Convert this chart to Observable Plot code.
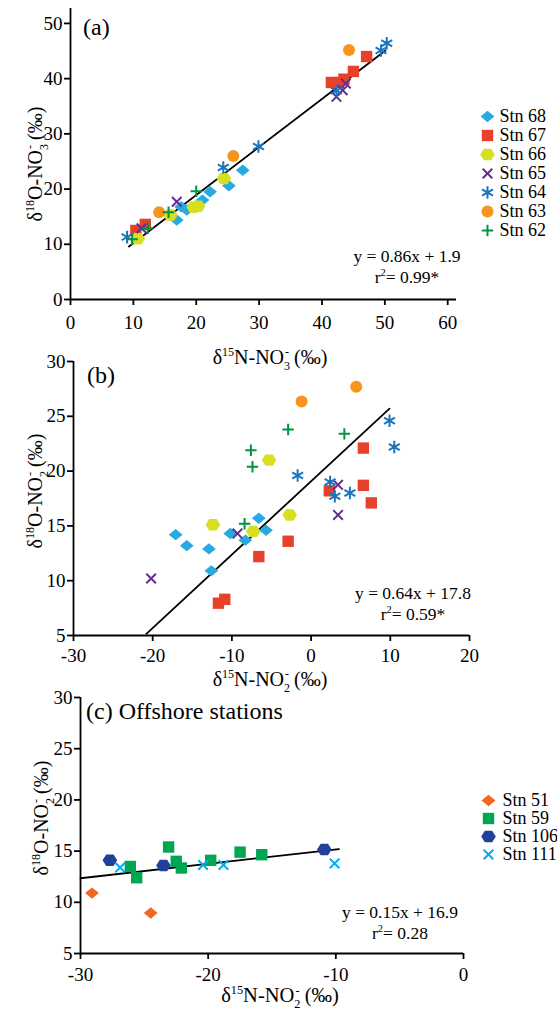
<!DOCTYPE html>
<html><head><meta charset="utf-8">
<script src="https://cdn.jsdelivr.net/npm/d3@7"></script>
<script src="https://cdn.jsdelivr.net/npm/@observablehq/plot@0.6"></script>
<style>
body{margin:0;background:#fff;}
#chart{position:relative;width:557px;height:1012px;overflow:hidden;font-family:"Liberation Serif","Times New Roman",serif;}
#chart svg{position:absolute;overflow:visible;}
</style>
</head><body><div id="chart"></div>
<script>
// ---------- data ----------
const stationsA = ["Stn 68","Stn 67","Stn 66","Stn 65","Stn 64","Stn 63","Stn 62"];
const colorsA   = ["#27aae1","#e8412b","#d7df23","#662d91","#1b75bc","#f7941d","#009444"];
const shapesA   = ["diamond","square","hexagon","times","asterisk","circle","plus"];
const stationsC = ["Stn 51","Stn 59","Stn 106","Stn 111"];
const colorsC   = ["#f26522","#00a651","#21409a","#00aeef"];
const shapesC   = ["diamond","square","hexagon","times"];

// panel (a): d15N-NO3 vs d18O-NO3
const a68 = [[16.9,14.4],[17.6,16.8],[18.5,16.2],[21.0,18.0],[22.2,19.5],[25.2,20.6],[27.4,23.4]];
const a67 = [[10.4,12.5],[11.9,13.6],[41.5,39.3],[42.6,39.3],[43.5,39.9],[45.0,41.3],[47.1,44.0]];
const a66 = [[10.7,11.0],[15.9,15.3],[19.6,16.7],[20.3,16.9],[24.4,21.9]];
const a65 = [[11.3,12.9],[16.9,17.7],[42.3,36.7],[43.3,37.9],[43.8,39.1]];
const a64 = [[9.0,11.3],[24.3,23.9],[29.9,27.7],[42.3,37.8],[49.4,45.1],[50.3,46.4]];
const a63 = [[14.1,15.8],[25.9,26.0],[44.3,45.2]];
const a62 = [[9.8,10.9],[12.3,12.9],[15.6,15.8],[20.0,19.6]];
const fitA = [[9.3,9.6],[50.1,45.1]];

// panel (b): d15N-NO2 vs d18O-NO2
const b68 = [[-17.1,14.2],[-15.7,13.2],[-12.9,12.9],[-12.6,10.9],[-10.2,14.3],[-8.3,13.7],[-6.6,15.7],[-5.7,14.6]];
const b67 = [[-11.7,7.95],[-10.9,8.3],[-6.6,12.2],[-2.9,13.6],[2.3,18.2],[6.6,22.1],[6.6,18.7],[7.6,17.1]];
const b66 = [[-12.4,15.1],[-7.3,14.5],[-5.3,21.0],[-2.7,16.0]];
const b65 = [[-20.2,10.2],[-9.3,14.3],[3.4,18.75],[3.4,16.0]];
const b64 = [[-1.7,19.6],[2.4,19.0],[3.0,17.7],[4.9,18.0],[9.9,24.6],[10.5,22.2]];
const b63 = [[-1.2,26.35],[5.7,27.7]];
const b62 = [[-7.6,21.9],[-7.4,20.4],[-8.4,15.2],[-2.9,23.8],[4.2,23.4]];
const fitB = [[-20.8,5.15],[9.9,25.7]];

// panel (c): offshore stations
const c51  = [[-29.1,10.9],[-24.5,8.95]];
const c59  = [[-26.1,13.5],[-25.6,12.4],[-23.1,15.4],[-22.5,14.0],[-22.1,13.35],[-19.8,14.1],[-17.5,14.9],[-15.8,14.65]];
const c106 = [[-27.7,14.1],[-23.5,13.6],[-10.9,15.15]];
const c111 = [[-26.9,13.4],[-20.4,13.65],[-18.8,13.65],[-10.1,13.8]];
const fitC = [[-30,12.35],[-9.75,15.2]];

// ticks
const ticksAx = [0,10,20,30,40,50,60];
const ticksAy = [0,10,20,30,40,50];
const ticksBx = [-30,-20,-10,0,10,20];
const ticksBy = [5,10,15,20,25,30];
const ticksCx = [-30,-20,-10,0];
const ticksCy = [5,10,15,20,25,30];

// texts
const labelA = "(a)", labelB = "(b)", labelC = "(c) Offshore stations";
const eqA = ["y = 0.86x + 1.9", "= 0.99*"];
const eqB = ["y = 0.64x + 17.8", "= 0.59*"];
const eqC = ["y = 0.15x + 16.9", "= 0.28"];
const xTitleNO3 = [["δ"],["15","sup"],["N-NO"],["3","sub"],["-","sup",-5],[" (‰)"]];
const yTitleNO3 = [["δ"],["18","sup"],["O-NO"],["3","sub"],["-","sup",-5],[" (‰)"]];
const xTitleNO2 = [["δ"],["15","sup"],["N-NO"],["2","sub"],["-","sup",-5],[" (‰)"]];
const yTitleNO2 = [["δ"],["18","sup"],["O-NO"],["2","sub"],["-","sup",-5],[" (‰)"]];

// ---------- symbols ----------
const rad = size => Math.sqrt(size / Math.PI);
const SYM = {
  diamond: {fill:true, draw(c,s){const r=rad(s),w=r*1.15,h=r*0.95;c.moveTo(0,-h);c.lineTo(w,0);c.lineTo(0,h);c.lineTo(-w,0);c.closePath();}},
  square:  {fill:true, draw(c,s){const r=rad(s)*0.95;c.moveTo(-r,-r);c.lineTo(r,-r);c.lineTo(r,r);c.lineTo(-r,r);c.closePath();}},
  hexagon: {fill:true, draw(c,s){const r=rad(s),w=r*1.22,h=r*0.95;c.moveTo(-w,0);c.lineTo(-w/2,-h);c.lineTo(w/2,-h);c.lineTo(w,0);c.lineTo(w/2,h);c.lineTo(-w/2,h);c.closePath();}},
  circle:  {fill:true, draw(c,s){const r=rad(s);c.moveTo(r,0);c.arc(0,0,r,0,2*Math.PI);c.closePath();}},
  times:   {fill:false, draw(c,s){const a=rad(s)*0.8;c.moveTo(-a,-a);c.lineTo(a,a);c.moveTo(-a,a);c.lineTo(a,-a);}},
  plus:    {fill:false, draw(c,s){const a=rad(s)*0.95;c.moveTo(-a,0);c.lineTo(a,0);c.moveTo(0,-a);c.lineTo(0,a);}},
  asterisk:{fill:false, draw(c,s){const r=rad(s)*1.05,t=r/2,u=t*Math.sqrt(3);c.moveTo(0,r);c.lineTo(0,-r);c.moveTo(-u,-t);c.lineTo(u,t);c.moveTo(-u,t);c.lineTo(u,-t);}}
};
function symOpts(shape, color) {
  const sym = SYM[shape];
  const o = {symbol: {draw: sym.draw}, r: 6};
  if (sym.fill) { o.fill = color; o.stroke = "none"; }
  else { o.fill = "none"; o.stroke = color; o.strokeWidth = 2; }
  return o;
}

const FONT = "Liberation Serif";
const baseStyle = {background:"transparent", overflow:"visible", fontFamily: FONT, fontSize:"18px", color:"black"};

// ---------- helpers ----------
function rich(sel, parts, size) {
  const t = sel.append("text").attr("font-size", size).attr("font-family", FONT).attr("fill","black").attr("text-anchor","middle");
  let shift = 0;
  for (const p of parts) {
    const s = p[1] === "sup" ? -0.4*size : p[1] === "sub" ? 0.28*size : 0;
    const ts = t.append("tspan").text(p[0]).attr("dy", s - shift);
    if (p[1]) ts.attr("font-size", size*0.6);
    if (p[2]) ts.attr("dx", p[2]);
    shift = s;
  }
  return t;
}

function panel(cfg) {
  const marks = [
    Plot.line(cfg.fit, {x: d=>d[0], y: d=>d[1], stroke:"black", strokeWidth:1.8})
  ];
  cfg.points.forEach((pts, i) => {
    marks.push(Plot.dot(pts, {x: d=>d[0], y: d=>d[1], ...symOpts(cfg.shapes[i], cfg.colors[i])}));
  });
  marks.push(
    Plot.ruleY([cfg.yDomain[0]], {stroke:"black", strokeWidth:1.8}),
    Plot.ruleX([cfg.xDomain[0]], {stroke:"black", strokeWidth:1.8}),
    Plot.axisX({ticks: cfg.xTicks, tickFormat: d=>String(d), tickSize:6, tickPadding: cfg.xPad, strokeWidth:1.8, label:null}),
    Plot.axisY({ticks: cfg.yTicks, tickFormat: d=>String(d), tickSize:6, tickPadding:2, strokeWidth:1.8, label:null})
  );
  const svg = Plot.plot({
    width: 557, height: cfg.height,
    marginLeft: cfg.ml, marginRight: cfg.mr, marginTop: cfg.mt, marginBottom: cfg.mb,
    x: {domain: cfg.xDomain}, y: {domain: cfg.yDomain},
    style: baseStyle,
    marks
  });
  svg.style.left = "0px"; svg.style.top = cfg.top + "px";
  const s = d3.select(svg);
  s.selectAll("g[aria-label='x-axis tick label'], g[aria-label='y-axis tick label']")
    .attr("font-size", 19).attr("font-family", FONT).attr("fill", "black");
  s.append("text").attr("x", cfg.lab[0]).attr("y", cfg.lab[1]).attr("font-size", 24).attr("font-family", FONT)
    .attr("text-anchor","start").attr("fill","black").text(cfg.label);
  s.append("text").attr("x", cfg.eq[0]).attr("y", cfg.eq[1]).attr("font-size", 17.5).attr("font-family", FONT)
    .attr("text-anchor","middle").attr("fill","black").text(cfg.eqText[0]);
  rich(s.append("g").attr("transform", `translate(${cfg.eq[0]},${cfg.eq[1]+21})`), [["r"],["2","sup"],[cfg.eqText[1]]], 17.5);
  rich(s.append("g").attr("transform", `translate(${cfg.xt[0]},${cfg.xt[1]})`), cfg.xTitle, cfg.xtSize);
  rich(s.append("g").attr("transform", `translate(${cfg.yt[0]},${cfg.yt[1]}) rotate(-90)`), cfg.yTitle, 20);
  return svg;
}

function legend(stations, colors, shapes, top, range, mx, tx, h) {
  const marks = stations.map((st, i) => Plot.dot([st], {y: d=>d, frameAnchor:"left", dx: mx, ...symOpts(shapes[i], colors[i])}));
  marks.push(Plot.text(stations, {y: d=>d, text: d=>d, frameAnchor:"left", dx: tx, textAnchor:"start", fontSize:18, fill:"black"}));
  const svg = Plot.plot({
    width: 87, height: h, margin: 0,
    y: {type:"point", domain: stations, range, axis:null},
    style: baseStyle, marks
  });
  svg.style.left = "470px"; svg.style.top = top + "px";
  return svg;
}

const chart = document.getElementById("chart");
chart.append(panel({
  top:0, height:340, ml:70, mr:101, mt:8, mb:41,
  xDomain:[0,61.4], yDomain:[0,52.7], xTicks:ticksAx, yTicks:ticksAy, xPad:10,
  points:[a68,a67,a66,a65,a64,a63,a62], shapes:shapesA, colors:colorsA, fit:fitA,
  label:labelA, lab:[83,35], eq:[407,262], eqText:eqA,
  xTitle:xTitleNO3, xt:[270,364], xtSize:20, yTitle:yTitleNO3, yt:[42,164]
}));
chart.append(panel({
  top:340, height:340, ml:73, mr:88, mt:21, mb:45,
  xDomain:[-30,20], yDomain:[5,30], xTicks:ticksBx, yTicks:ticksBy, xPad:7,
  points:[b68,b67,b66,b65,b64,b63,b62], shapes:shapesA, colors:colorsA, fit:fitB,
  label:labelB, lab:[87,43], eq:[413,259], eqText:eqB,
  xTitle:xTitleNO2, xt:[270,346], xtSize:20, yTitle:yTitleNO2, yt:[42,151]
}));
chart.append(panel({
  top:680, height:332, ml:80, mr:94, mt:17, mb:59,
  xDomain:[-30,0], yDomain:[5,30], xTicks:ticksCx, yTicks:ticksCy, xPad:8,
  points:[c51,c59,c106,c111], shapes:shapesC, colors:colorsC, fit:fitC,
  label:labelC, lab:[86,39], eq:[400,238], eqText:eqC,
  xTitle:xTitleNO2, xt:[280,322], xtSize:20.5, yTitle:yTitleNO2, yt:[48,138]
}));
chart.append(legend(stationsA, colorsA, shapesA, 90, [13,152.5], 17, 29, 170));
chart.append(legend(stationsC, colorsC, shapesC, 770, [20,93.5], 18, 32, 110));
</script></body></html>
